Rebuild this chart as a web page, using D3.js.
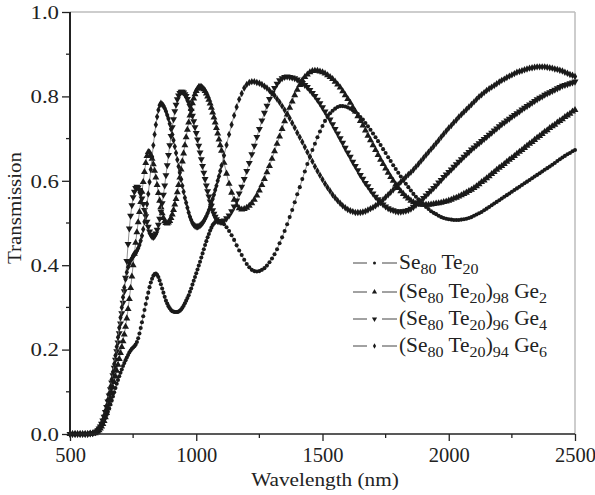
<!DOCTYPE html>
<html><head><meta charset="utf-8">
<script src="https://cdn.jsdelivr.net/npm/d3@7"></script>
<style>html,body{margin:0;padding:0;background:#fff}</style>
</head><body><svg id="chart" width="595" height="495"></svg>
<script>
// Sampling grid (nm): coarse below 600, 5 nm through the fringe-dense region, 10 nm beyond.
const wavelengthNm = [].concat(d3.range(500, 600, 10), d3.range(600, 1105, 5), d3.range(1110, 2501, 10));

const seTe = [
  0,0,0,0,0,0,0,0,0,.001,
  .003,.005,.008,.011,.015,.02,.025,.031,.038,.045,
  .053,.061,.07,.079,.089,.099,.109,.119,.128,.137,
  .145,.153,.161,.168,.175,.181,.187,.193,.198,.202,
  .205,.208,.212,.218,.227,.238,.251,.265,.279,.294,
  .308,.322,.335,.348,.359,.368,.375,.379,.38,.377,
  .372,.364,.355,.345,.335,.325,.316,.309,.303,.298,
  .294,.291,.29,.289,.289,.289,.29,.292,.295,.299,
  .304,.31,.316,.322,.329,.337,.345,.354,.363,.372,
  .381,.39,.399,.408,.418,.428,.438,.448,.457,.466,
  .474,.482,.489,.495,.499,.502,.504,.505,.505,.504,
  .502,
  .497,.49,.481,.471,.46,.447,.435,.424,.413,.403,
  .395,.389,.386,.385,.386,.389,.393,.399,.407,.416,
  .426,.438,.452,.466,.481,.497,.514,.531,.549,.568,
  .585,.604,.622,.64,.657,.673,.688,.703,.717,.73,
  .742,.752,.76,.766,.771,.775,.777,.777,.776,.774,
  .771,.767,.763,.758,.751,.745,.737,.729,.721,.712,
  .703,.694,.685,.675,.666,.656,.647,.637,.628,.619,
  .61,.601,.593,.585,.577,.569,.562,.556,.549,.544,
  .538,.533,.528,.524,.521,.517,.514,.512,.51,.509,
  .508,.507,.507,.507,.508,.509,.51,.512,.514,.517,
  .52,.523,.526,.53,.534,.538,.542,.546,.55,.554,
  .558,.562,.566,.57,.574,.578,.582,.586,.59,.594,
  .598,.602,.606,.61,.614,.618,.622,.626,.63,.634,
  .638,.642,.647,.651,.655,.659,.663,.666,.67,.673
];

const ge2 = [
  0,0,0,0,0,0,0,0,.001,.001,
  .002,.004,.006,.009,.013,.018,.024,.031,.04,.05,
  .061,.072,.084,.097,.11,.123,.136,.15,.164,.178,
  .192,.206,.22,.236,.254,.274,.296,.32,.346,.373,
  .4,.427,.453,.478,.502,.526,.55,.574,.597,.621,
  .642,.659,.668,.667,.661,.652,.639,.624,.608,.59,
  .571,.553,.538,.523,.512,.504,.5,.499,.501,.505,
  .512,.52,.531,.544,.557,.573,.59,.608,.627,.646,
  .665,.684,.703,.721,.738,.755,.77,.784,.795,.805,
  .813,.818,.822,.823,.822,.82,.817,.813,.807,.8,
  .792,.783,.773,.762,.75,.738,.725,.712,.698,.684,
  .671,
  .643,.617,.593,.572,.555,.542,.535,.532,.533,.536,
  .541,.547,.555,.565,.577,.59,.604,.62,.635,.652,
  .67,.688,.705,.723,.741,.757,.773,.788,.803,.816,
  .827,.838,.846,.852,.857,.86,.861,.861,.859,.857,
  .854,.85,.846,.841,.835,.828,.821,.812,.803,.794,
  .785,.774,.764,.753,.742,.731,.719,.707,.696,.684,
  .673,.661,.65,.64,.629,.619,.609,.6,.591,.583,
  .575,.569,.563,.558,.553,.549,.546,.545,.543,.543,
  .543,.543,.544,.545,.546,.547,.548,.55,.551,.553,
  .555,.558,.56,.563,.566,.569,.572,.576,.579,.583,
  .587,.592,.597,.601,.606,.611,.616,.621,.626,.631,
  .635,.64,.645,.65,.654,.659,.664,.669,.673,.678,
  .683,.688,.692,.697,.702,.706,.711,.716,.72,.725,
  .729,.733,.738,.742,.746,.751,.755,.759,.764,.768
];

const ge4 = [
  0,0,0,0,0,0,0,0,.001,.002,
  .004,.006,.009,.013,.018,.024,.032,.041,.052,.064,
  .077,.091,.106,.122,.139,.157,.176,.196,.217,.239,
  .262,.286,.311,.338,.37,.41,.45,.487,.517,.542,
  .561,.574,.583,.586,.584,.578,.569,.558,.545,.531,
  .516,.503,.491,.48,.472,.468,.467,.469,.475,.484,
  .496,.51,.527,.547,.567,.589,.613,.637,.661,.684,
  .706,.727,.746,.765,.78,.793,.802,.808,.811,.811,
  .809,.805,.801,.794,.786,.777,.766,.754,.741,.727,
  .713,.698,.683,.667,.651,.635,.619,.604,.589,.575,
  .563,.551,.541,.53,.522,.515,.509,.505,.504,.503,
  .503,
  .506,.511,.518,.528,.539,.553,.57,.586,.604,.623,
  .642,.663,.683,.704,.723,.743,.761,.778,.794,.808,
  .82,.83,.838,.843,.846,.847,.846,.845,.843,.84,
  .836,.832,.827,.822,.815,.808,.801,.792,.784,.774,
  .764,.755,.745,.734,.723,.712,.701,.69,.678,.667,
  .657,.645,.635,.625,.614,.605,.595,.587,.578,.57,
  .562,.556,.549,.544,.539,.535,.532,.53,.528,.527,
  .527,.528,.529,.531,.534,.538,.543,.548,.553,.559,
  .565,.571,.577,.583,.589,.596,.602,.609,.615,.621,
  .627,.633,.639,.645,.651,.657,.663,.668,.674,.679,
  .684,.689,.694,.699,.704,.709,.714,.719,.724,.729,
  .734,.738,.743,.747,.752,.756,.76,.764,.769,.773,
  .777,.781,.785,.789,.793,.797,.8,.804,.807,.81,
  .813,.816,.819,.822,.825,.827,.829,.831,.833,.835
];

const ge6 = [
  0,0,0,0,0,0,0,0,.001,.002,
  .004,.007,.01,.014,.019,.026,.034,.044,.055,.067,
  .081,.096,.112,.129,.147,.166,.186,.207,.229,.252,
  .276,.3,.324,.347,.367,.383,.395,.404,.411,.416,
  .421,.425,.429,.434,.44,.448,.458,.47,.485,.503,
  .523,.545,.569,.597,.627,.656,.684,.71,.733,.752,
  .768,.779,.784,.781,.778,.772,.765,.756,.747,.735,
  .723,.71,.696,.681,.666,.65,.634,.619,.603,.588,
  .574,.56,.548,.536,.525,.515,.507,.5,.496,.493,
  .491,.491,.492,.494,.497,.5,.505,.51,.516,.523,
  .531,.539,.547,.557,.567,.578,.588,.6,.611,.623,
  .636,
  .66,.685,.71,.733,.755,.775,.793,.807,.82,.828,
  .833,.835,.835,.833,.831,.828,.824,.82,.814,.808,
  .802,.794,.786,.777,.768,.758,.748,.737,.726,.714,
  .703,.692,.68,.668,.657,.646,.634,.623,.613,.603,
  .593,.584,.576,.567,.56,.553,.547,.541,.536,.532,
  .529,.527,.525,.525,.525,.526,.528,.531,.534,.537,
  .541,.545,.549,.555,.561,.567,.573,.579,.585,.591,
  .597,.603,.609,.615,.62,.626,.633,.64,.647,.654,
  .661,.668,.675,.682,.689,.696,.704,.711,.718,.725,
  .731,.738,.744,.751,.757,.763,.769,.775,.781,.787,
  .793,.799,.804,.809,.814,.818,.822,.826,.83,.834,
  .838,.841,.845,.848,.851,.854,.857,.859,.861,.863,
  .865,.867,.868,.869,.87,.87,.87,.87,.869,.868,
  .867,.865,.864,.862,.86,.857,.855,.852,.85,.847
];

const xTickValues = [500, 1000, 1500, 2000, 2500];
const xMinorValues = [750, 1250, 1750, 2250];
const yTickValues = [0, 0.2, 0.4, 0.6, 0.8, 1.0];
const yMinorValues = [0.1, 0.3, 0.5, 0.7, 0.9];

const series = [
  { values: seTe, symbol: d3.symbolCircle, size: 13, rotate: 0,
    label: [["Se", 0], ["80", 1], [" Te", 0], ["20", 1]] },
  { values: ge2, symbol: d3.symbolTriangle, size: 21, rotate: 0,
    label: [["(Se", 0], ["80", 1], [" Te", 0], ["20", 1], [")", 0], ["98", 1], [" Ge", 0], ["2", 1]] },
  { values: ge4, symbol: d3.symbolTriangle, size: 21, rotate: 180,
    label: [["(Se", 0], ["80", 1], [" Te", 0], ["20", 1], [")", 0], ["96", 1], [" Ge", 0], ["4", 1]] },
  { values: ge6, symbol: d3.symbolDiamond, size: 16, rotate: 0,
    label: [["(Se", 0], ["80", 1], [" Te", 0], ["20", 1], [")", 0], ["94", 1], [" Ge", 0], ["6", 1]] }
];

series.forEach(s => {
  if (s.values.length !== wavelengthNm.length)
    throw new Error("length mismatch " + s.values.length + " vs " + wavelengthNm.length);
});

const svg = d3.select("#chart");
const FONT = "'Liberation Serif', 'Times New Roman', serif";
const INK = "#222";
const plotLeft = 70, plotRight = 575, plotTop = 12, plotBottom = 434;

const x = d3.scaleLinear().domain([500, 2500]).range([plotLeft, plotRight]);
const y = d3.scaleLinear().domain([0, 1]).range([plotBottom, plotTop]);

svg.append("rect").attr("width", 595).attr("height", 495).attr("fill", "#fff");

// light frame on top and right
svg.append("line").attr("x1", plotLeft).attr("x2", plotRight).attr("y1", plotTop).attr("y2", plotTop)
  .attr("stroke", "#bdbdbd").attr("stroke-width", 1.5);
svg.append("line").attr("x1", plotRight).attr("x2", plotRight).attr("y1", plotTop).attr("y2", plotBottom)
  .attr("stroke", "#bdbdbd").attr("stroke-width", 1.5);

// curves: thin grey connecting line with a filled marker at every sample
const line = d3.line().x((d, i) => x(wavelengthNm[i])).y(d => y(d));
series.forEach(s => {
  const g = svg.append("g");
  g.append("path").datum(s.values).attr("d", line)
    .attr("fill", "none").attr("stroke", "#777").attr("stroke-width", 0.8);
  const sym = d3.symbol().type(s.symbol).size(s.size);
  g.selectAll("path.m").data(s.values).join("path").attr("class", "m")
    .attr("d", sym)
    .attr("transform", (d, i) => `translate(${x(wavelengthNm[i])},${y(d)}) rotate(${s.rotate})`)
    .attr("fill", "#1a1a1a");
});

// axes
const xAxis = d3.axisBottom(x).tickValues(xTickValues).tickSize(7).tickPadding(6).tickFormat(d3.format("d"));
const gx = svg.append("g").attr("transform", `translate(0,${plotBottom})`).call(xAxis);
xMinorValues.forEach(v => {
  gx.append("line").attr("x1", x(v)).attr("x2", x(v)).attr("y1", 0).attr("y2", 4)
    .attr("stroke", INK).attr("stroke-width", 1.3);
});
gx.select(".domain").attr("stroke", INK).attr("stroke-width", 1.6).attr("d", `M${plotLeft},0H${plotRight}`);
gx.selectAll(".tick line").attr("stroke", INK).attr("stroke-width", 1.3);
gx.selectAll(".tick text").attr("font-family", FONT).attr("font-size", 20.5).attr("fill", INK);

const yAxis = d3.axisLeft(y).tickValues(yTickValues).tickSize(8).tickPadding(3).tickFormat(d3.format(".1f"));
const gy = svg.append("g").attr("transform", `translate(${plotLeft},0)`).call(yAxis);
yMinorValues.forEach(v => {
  gy.append("line").attr("x1", -4).attr("x2", 0).attr("y1", y(v)).attr("y2", y(v))
    .attr("stroke", INK).attr("stroke-width", 1.3);
});
gy.select(".domain").attr("stroke", INK).attr("stroke-width", 2).attr("d", `M0,${plotTop}V${plotBottom}`);
gy.selectAll(".tick line").attr("stroke", INK).attr("stroke-width", 1.3);
gy.selectAll(".tick text").attr("font-family", FONT).attr("font-size", 19.5).attr("fill", INK)
  .attr("x", 0).attr("transform", "translate(-11,0) scale(1.17,1)");

// axis titles (set slightly wide)
svg.append("g").attr("transform", "translate(325,486) scale(1.12,1)")
  .append("text").attr("text-anchor", "middle")
  .attr("font-family", FONT).attr("font-size", 19).attr("fill", INK).text("Wavelength (nm)");
svg.append("g").attr("transform", "translate(21,208) rotate(-90) scale(1.1,1)")
  .append("text").attr("text-anchor", "middle")
  .attr("font-family", FONT).attr("font-size", 19).attr("fill", INK).text("Transmission");

// legend
const legendRows = [263, 292, 319, 346];
series.forEach((s, i) => {
  const cy = legendRows[i];
  const g = svg.append("g");
  g.append("line").attr("x1", 353).attr("x2", 367).attr("y1", cy).attr("y2", cy)
    .attr("stroke", "#444").attr("stroke-width", 1);
  g.append("line").attr("x1", 382).attr("x2", 397).attr("y1", cy).attr("y2", cy)
    .attr("stroke", "#444").attr("stroke-width", 1);
  g.append("path").attr("d", d3.symbol().type(s.symbol).size(s.size * 0.55)())
    .attr("transform", `translate(374.5,${cy}) rotate(${s.rotate})`).attr("fill", "#1a1a1a");
  const t = g.append("g").attr("transform", `translate(399,${cy + 6}) scale(1.07,1)`)
    .append("text").attr("font-family", FONT).attr("font-size", 20).attr("fill", INK);
  let shifted = false;
  s.label.forEach(([str, sub]) => {
    const ts = t.append("tspan").text(str);
    if (sub && !shifted) { ts.attr("dy", 5).attr("font-size", 15); shifted = true; }
    else if (sub) { ts.attr("font-size", 15); }
    else if (!sub && shifted) { ts.attr("dy", -5); shifted = false; }
  });
});
</script>
</body></html>
